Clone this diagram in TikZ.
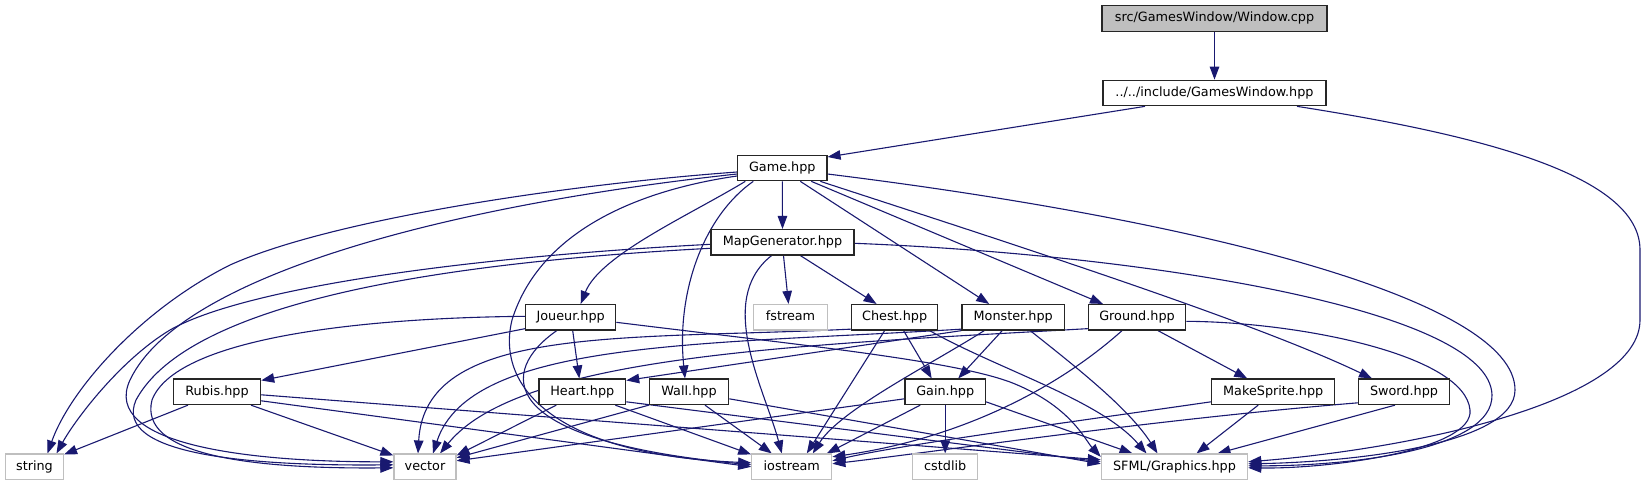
\documentclass[tikz,border=0pt]{standalone}
\usepackage{fontspec}
\setmainfont{DejaVu Sans}
\usetikzlibrary{arrows.meta}
\definecolor{edgeblue}{RGB}{25,25,112}
\definecolor{leafgray}{RGB}{191,191,191}
\definecolor{rootfill}{RGB}{191,191,191}
\pgfdeclarelayer{edgelayer}
\pgfsetlayers{edgelayer,main}
\begin{document}
\begin{tikzpicture}[x=1pt,y=-1pt,
 box/.style={draw=black!85, line width=1.2pt, fill=white, minimum height=25.5pt, inner sep=0pt,
   font=\fontsize{12.8}{15}\selectfont, text=black, text height=9.3pt, text depth=2.7pt},
 rootbox/.style={box, fill=rootfill},
 leafbox/.style={box, draw=leafgray},
 dep/.style={draw=edgeblue, line width=1.1pt, -{Triangle[length=13pt,width=9.5pt]}},
]
\useasboundingbox (0,0) rectangle (1644,485);
% nodes
\node[rootbox, minimum width=225pt] (win) at (1214.5,18.5) {src/GamesWindow/Window.cpp};
\node[box, minimum width=223pt] (gw) at (1214.5,93) {../../include/GamesWindow.hpp};
\node[box, minimum width=89.3pt] (game) at (782.3,168) {Game.hpp};
\node[box, minimum width=143pt] (mapgen) at (782.5,242.3) {MapGenerator.hpp};
\node[box, minimum width=90pt] (joueur) at (570.7,317.3) {Joueur.hpp};
\node[leafbox, minimum width=73.5pt] (fstream) at (790.5,317.3) {fstream};
\node[box, minimum width=86.5pt] (chest) at (894.6,317.3) {Chest.hpp};
\node[box, minimum width=102.5pt] (monster) at (1013.2,317.3) {Monster.hpp};
\node[box, minimum width=97.3pt] (ground) at (1137,317.3) {Ground.hpp};
\node[box, minimum width=87.2pt] (rubis) at (217,391.8) {Rubis.hpp};
\node[box, minimum width=86.7pt] (heart) at (582.3,391.8) {Heart.hpp};
\node[box, minimum width=79.3pt] (wall) at (689,391.8) {Wall.hpp};
\node[box, minimum width=80.3pt] (gain) at (945.2,391.8) {Gain.hpp};
\node[box, minimum width=123pt] (makesprite) at (1273.2,391.8) {MakeSprite.hpp};
\node[box, minimum width=90.7pt] (sword) at (1404,391.8) {Sword.hpp};
\node[leafbox, minimum width=58pt] (string) at (34.5,466.8) {string};
\node[leafbox, minimum width=62pt] (vector) at (425,466.8) {vector};
\node[leafbox, minimum width=80pt] (iostream) at (791.8,466.8) {iostream};
\node[leafbox, minimum width=65.3pt] (cstdlib) at (945.2,466.8) {cstdlib};
\node[leafbox, minimum width=146.3pt] (sfml) at (1174.5,466.8) {SFML/Graphics.hpp};
\begin{pgfonlayer}{edgelayer}
% top
\draw[dep] (win.south) -- (gw.north);
\draw[dep] ([xshift=-69.5pt]gw.south) -- ([yshift=11pt]game.east);
\draw[dep] ([xshift=82.5pt]gw.south) .. controls (1480,135) and (1640,175) .. (1640,250) -- (1640,320) .. controls (1640,400) and (1420,448) .. ([yshift=5pt]sfml.east);
% Game
\draw[dep] ([yshift=-4pt]game.west) .. controls (560,185) and (330,220) .. (230,265) .. controls (140,310) and (70,390) .. ([xshift=13pt]string.north);
\draw[dep] ([yshift=-6pt]game.west) .. controls (450,205) and (180,275) .. (130,380) .. controls (100,445) and (250,462) .. ([yshift=5pt]vector.west);
\draw[dep] ([yshift=-8pt]game.west) .. controls (640,190) and (540,230) .. (512,320) .. controls (495,390) and (560,455) .. ([yshift=4pt]iostream.west);
\draw[dep] ([xshift=-37pt]game.south) .. controls (690,215) and (600,255) .. ([xshift=10pt]joueur.north);
\draw[dep] (game.south) -- (mapgen.north);
\draw[dep] ([xshift=-29pt]game.south) .. controls (705,215) and (676,290) .. ([xshift=-4pt]wall.north);
\draw[dep] ([xshift=18pt]game.south) -- ([xshift=-24pt]monster.north);
\draw[dep] ([xshift=29pt]game.south) -- ([xshift=-34pt]ground.north);
\draw[dep] ([xshift=38pt]game.south) .. controls (1000,240) and (1250,320) .. ([xshift=-32pt]sword.north);
\draw[dep] ([yshift=-6pt]game.east) .. controls (1200,220) and (1515,300) .. (1515,390) .. controls (1515,445) and (1350,462) .. ([yshift=3pt]sfml.east);
% MapGenerator
\draw[dep] ([yshift=-2pt]mapgen.west) .. controls (450,258) and (240,290) .. (170,330) .. controls (120,360) and (75,420) .. ([xshift=22pt]string.north);
\draw[dep] ([yshift=-6pt]mapgen.west) .. controls (450,262) and (190,300) .. (136,400) .. controls (112,455) and (250,466) .. ([yshift=2pt]vector.west);
\draw[dep] ([xshift=-11pt]mapgen.south) .. controls (715,300) and (765,390) .. ([xshift=-10pt]iostream.north);
\draw[dep] ([xshift=1pt]mapgen.south) -- ([xshift=-2pt]fstream.north);
\draw[dep] ([xshift=18pt]mapgen.south) -- ([xshift=-18pt]chest.north);
\draw[dep] ([yshift=-1pt]mapgen.east) .. controls (1150,255) and (1490,310) .. (1492,395) .. controls (1493,450) and (1350,466) .. ([yshift=1pt]sfml.east);
% Joueur
\draw[dep] ([yshift=1pt]joueur.west) .. controls (350,318) and (175,340) .. (152,400) .. controls (138,455) and (250,469) .. ([yshift=-1pt]vector.west);
\draw[dep] ([xshift=-14pt]joueur.south) .. controls (500,370) and (490,440) .. ([yshift=2pt]iostream.west);
\draw[dep] ([yshift=2pt]joueur.south west) -- ([yshift=-2pt]rubis.north east);
\draw[dep] ([xshift=2pt]joueur.south) -- ([xshift=-3pt]heart.north);
\draw[dep] ([yshift=-5pt]joueur.east) .. controls (800,345) and (950,360) .. (1010,382) .. controls (1070,405) and (1085,440) .. ([yshift=10pt]sfml.west);
% Chest
\draw[dep] ([yshift=1.5pt]chest.south west) .. controls (620,340) and (425,325) .. ([xshift=-7pt]vector.north);
\draw[dep] ([xshift=-10pt]chest.south) -- ([xshift=15pt]iostream.north);
\draw[dep] ([xshift=9pt]chest.south) -- ([xshift=-13.5pt]gain.north);
\draw[dep] ([xshift=35pt]chest.south) .. controls (1000,370) and (1100,400) .. ([xshift=-28pt]sfml.north);
% Monster
\draw[dep] ([yshift=1.5pt]monster.south west) .. controls (700,345) and (470,340) .. ([xshift=8pt]vector.north);
\draw[dep] (monster.south west) -- ([yshift=-2pt]heart.north east);
\draw[dep] ([xshift=-29pt]monster.south) .. controls (930,365) and (840,410) .. ([xshift=21pt]iostream.north);
\draw[dep] ([xshift=-11pt]monster.south) -- ([xshift=13pt]gain.north);
\draw[dep] ([xshift=17pt]monster.south) .. controls (1080,370) and (1130,410) .. ([xshift=-17pt]sfml.north);
% Ground
\draw[dep] ([yshift=2pt]ground.south west) .. controls (800,345) and (520,355) .. ([xshift=15pt]vector.north);
\draw[dep] ([xshift=-15pt]ground.south) .. controls (1050,395) and (950,440) .. ([yshift=10pt]iostream.east);
\draw[dep] ([xshift=21pt]ground.south) -- ([xshift=-26pt]makesprite.north);
\draw[dep] ([yshift=-4pt]ground.east) .. controls (1300,322) and (1465,355) .. (1470,410) .. controls (1474,450) and (1330,469) .. ([yshift=-1pt]sfml.east);
% Rubis
\draw[dep] ([xshift=-29pt]rubis.south) -- ([yshift=-1pt]string.north east);
\draw[dep] ([xshift=34pt]rubis.south) -- ([yshift=-2pt]vector.north west);
\draw[dep] ([yshift=-9pt]rubis.east) -- (iostream.west);
\draw[dep] ([yshift=-3pt]rubis.east) -- ([yshift=7pt]sfml.west);
% Heart
\draw[dep] ([xshift=-26pt]heart.south) -- ([yshift=-2pt]vector.north east);
\draw[dep] ([xshift=33pt]heart.south) -- ([yshift=-1pt]iostream.north west);
\draw[dep] ([yshift=-10pt]heart.east) -- ([yshift=5pt]sfml.west);
% Wall
\draw[dep] (wall.south west) -- ([yshift=9pt]vector.east);
\draw[dep] ([xshift=16pt]wall.south) -- ([xshift=-20pt]iostream.north);
\draw[dep] ([yshift=-7pt]wall.east) -- ([yshift=3pt]sfml.west);
% Gain
\draw[dep] ([yshift=-7pt]gain.west) -- ([yshift=6pt]vector.east);
\draw[dep] ([xshift=-25pt]gain.south) -- ([xshift=35pt]iostream.north);
\draw[dep] (gain.south) -- (cstdlib.north);
\draw[dep] ([yshift=-10pt]gain.east) -- ([xshift=-42pt]sfml.north);
% MakeSprite
\draw[dep] ([yshift=-10pt]makesprite.west) .. controls (1050,425) and (900,445) .. ([yshift=6pt]iostream.east);
\draw[dep] ([xshift=-15pt]makesprite.south) -- ([xshift=22pt]sfml.north);
% Sword
\draw[dep] ([yshift=-11pt]sword.west) .. controls (1150,420) and (950,450) .. ([yshift=3pt]iostream.east);
\draw[dep] ([xshift=-9pt]sword.south) -- ([xshift=43pt]sfml.north);
\end{pgfonlayer}
\end{tikzpicture}
\end{document}
